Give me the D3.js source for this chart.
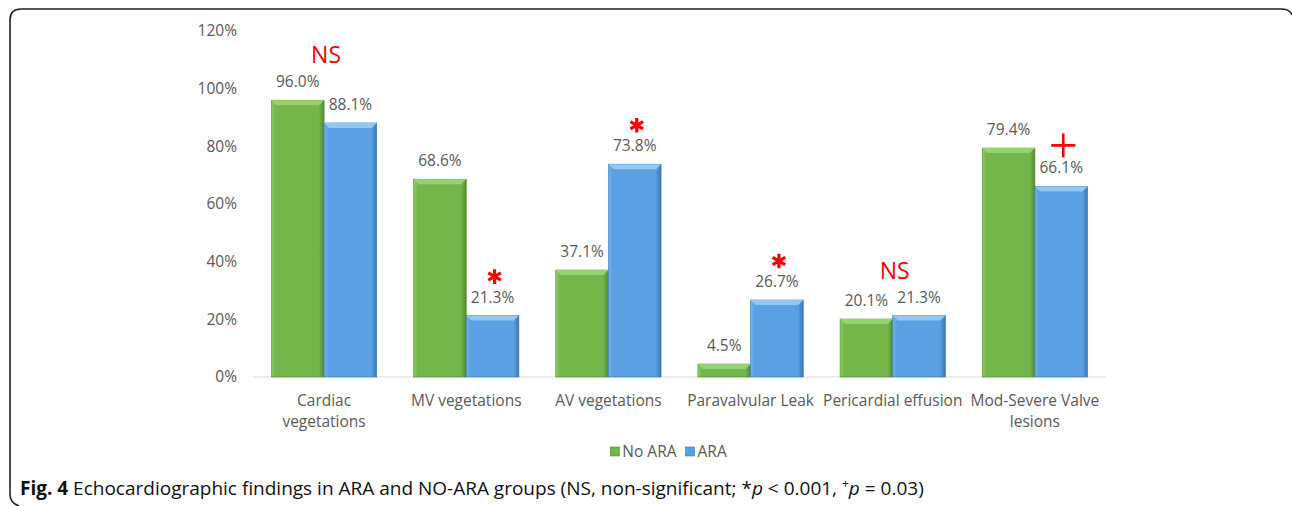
<!DOCTYPE html>
<html>
<head>
<meta charset="utf-8">
<script src="https://cdn.jsdelivr.net/npm/d3@7"></script>
<style>
  body { margin: 0; background: #fff; }
  svg { display: block; font-family: "Open Sans", sans-serif; }
</style>
</head>
<body>
<svg id="chart" width="1292" height="506"></svg>
<script>
const categories = ["Cardiac\nvegetations", "MV vegetations", "AV vegetations", "Paravalvular Leak", "Pericardial effusion", "Mod-Severe Valve\nlesions"];
const seriesNames = ["No ARA", "ARA"];
const noAraValues = [96.0, 68.6, 37.1, 4.5, 20.1, 79.4];
const araValues = [88.1, 21.3, 73.8, 26.7, 21.3, 66.1];
const sigMarks = ["NS", "*", "*", "*", "NS", "+"];
// which bar the marker sits above: the whole group or the ARA bar
const sigTarget = ["group", "ARA", "ARA", "ARA", "group", "ARA"];
const yTicks = [0, 20, 40, 60, 80, 100, 120];
const caption = "Echocardiographic findings in ARA and NO-ARA groups (NS, non-significant; ";

const colors = {
    "No ARA": { base: "#74b64a", light: "#8fcb67", dark: "#4f8b30", top: "#98d170" },
    "ARA": { base: "#5aa0e2", light: "#74b3ec", dark: "#3b76b3", top: "#92c8f2" }
};
const labelSize = "15.5px";

const svg = d3.select("#chart");
const width = 1292, height = 506;
const margin = { top: 31, left: 253, right: 186, bottom: 129 };

svg.append("rect").attr("width", width).attr("height", height).attr("fill", "#fff");

// frame
svg.append("path")
    .attr("d", "M19,506 Q10,503 10,494 L10,20 Q10,9 21,9 L1281,9 Q1290,9 1292,15")
    .attr("fill", "none").attr("stroke", "#222").attr("stroke-width", 1.6);

const defs = svg.append("defs");
seriesNames.forEach((s, i) => {
    const g = defs.append("linearGradient").attr("id", "grad" + i)
        .attr("x1", "0").attr("x2", "1").attr("y1", "0").attr("y2", "0");
    g.append("stop").attr("offset", "0%").attr("stop-color", colors[s].light);
    g.append("stop").attr("offset", "8%").attr("stop-color", colors[s].base);
    g.append("stop").attr("offset", "90%").attr("stop-color", colors[s].base);
    g.append("stop").attr("offset", "100%").attr("stop-color", colors[s].dark);
});

const x0 = d3.scaleBand()
    .domain(categories)
    .range([margin.left, width - margin.right])
    .padding(0);

const x1 = d3.scaleBand()
    .domain(seriesNames)
    .range([0, x0.bandwidth()])
    .paddingInner(0)
    .paddingOuter(0.35);

const y = d3.scaleLinear()
    .domain([0, 120])
    .range([height - margin.bottom, margin.top]);

// y axis labels
const yAxis = svg.append("g")
    .attr("transform", `translate(${margin.left},0)`)
    .call(d3.axisLeft(y).tickValues(yTicks).tickSize(0).tickPadding(16).tickFormat(d => d + "%"));
yAxis.select(".domain").remove();
yAxis.selectAll("text")
    .attr("fill", "#595959")
    .style("font-family", "'Open Sans', sans-serif")
    .style("font-size", labelSize);

// baseline
svg.append("line")
    .attr("x1", margin.left).attr("x2", width - margin.right)
    .attr("y1", y(0)).attr("y2", y(0))
    .attr("stroke", "#d9d9d9").attr("stroke-width", 1.2);

const rows = categories.map((c, i) => ({
    cat: c,
    values: [
        { series: "No ARA", value: noAraValues[i], idx: 0 },
        { series: "ARA", value: araValues[i], idx: 1 }
    ]
}));

const groups = svg.append("g").selectAll("g")
    .data(rows)
    .join("g")
    .attr("transform", d => `translate(${x0(d.cat)},0)`);

groups.selectAll("rect.bar")
    .data(d => d.values)
    .join("rect")
    .attr("class", "bar")
    .attr("x", d => x1(d.series))
    .attr("y", d => y(d.value))
    .attr("width", x1.bandwidth())
    .attr("height", d => y(0) - y(d.value))
    .attr("fill", d => `url(#grad${d.idx})`)
    .attr("stroke", d => colors[d.series].dark)
    .attr("stroke-width", 0.6);

// top bevel
groups.selectAll("path.bevel")
    .data(d => d.values)
    .join("path")
    .attr("class", "bevel")
    .attr("d", d => {
        const xa = x1(d.series), xb = xa + x1.bandwidth(), yt = y(d.value);
        const h = Math.min(5, y(0) - yt);
        return `M${xa},${yt} L${xb},${yt} L${xb - 5},${yt + h} L${xa + 5},${yt + h} Z`;
    })
    .attr("fill", d => colors[d.series].top);

// value labels
groups.selectAll("text.val")
    .data(d => d.values)
    .join("text")
    .attr("class", "val")
    .attr("x", d => x1(d.series) + x1.bandwidth() / 2)
    .attr("y", d => y(d.value) - 13)
    .attr("text-anchor", "middle")
    .attr("fill", "#595959")
    .style("font-size", labelSize)
    .text(d => d.value.toFixed(1) + "%");

// significance markers
rows.forEach((r, i) => {
    const mark = sigMarks[i];
    let cx, top;
    if (sigTarget[i] === "group") {
        cx = x0(r.cat) + x0.bandwidth() / 2;
        top = y(d3.max(r.values, v => v.value)) - 13;
    } else {
        cx = x0(r.cat) + x1("ARA") + x1.bandwidth() / 2 + 2;
        top = y(r.values[1].value) - 13;
    }
    if (mark === "NS") {
        svg.append("text")
            .attr("x", cx + 2).attr("y", top - 24)
            .attr("text-anchor", "middle")
            .attr("fill", "#ff0000")
            .style("font-size", "23px")
            .text("NS");
    } else if (mark === "*") {
        svg.append("path")
            .attr("transform", `translate(${cx},${top - 26})`)
            .attr("d", d3.symbol(d3.symbolAsterisk, 150)())
            .attr("fill", "none")
            .attr("stroke", "#ff0000")
            .attr("stroke-width", 3.2);
    } else if (mark === "+") {
        svg.append("path")
            .attr("transform", `translate(${cx},${top - 28})`)
            .attr("d", "M-12,0 L12,0 M0,-12 L0,12")
            .attr("fill", "none")
            .attr("stroke", "#ff0000")
            .attr("stroke-width", 2.6);
    }
});

// category labels
const catLabels = svg.append("g").selectAll("text")
    .data(categories)
    .join("text")
    .attr("x", d => x0(d) + x0.bandwidth() / 2)
    .attr("y", y(0) + 29)
    .attr("text-anchor", "middle")
    .attr("fill", "#595959")
    .style("font-size", labelSize);
catLabels.selectAll("tspan")
    .data(d => d.split("\n"))
    .join("tspan")
    .attr("x", function () { return d3.select(this.parentNode).attr("x"); })
    .attr("dy", (d, i) => i === 0 ? 0 : 21)
    .text(d => d);

// legend, centred under the plot
const legend = svg.append("g");
let lx = 0;
seriesNames.forEach((s, i) => {
    const item = legend.append("g").attr("transform", `translate(${lx},0)`);
    item.append("rect")
        .attr("x", 0).attr("y", -10).attr("width", 9).attr("height", 9)
        .attr("fill", colors[s].base).attr("stroke", colors[s].dark).attr("stroke-width", 0.6);
    const t = item.append("text")
        .attr("x", 12).attr("y", 0)
        .attr("fill", "#595959")
        .style("font-size", labelSize)
        .text(s);
    lx += 12 + t.node().getComputedTextLength() + (i === 0 ? 9 : 0);
});
legend.attr("transform", `translate(${(margin.left + width - margin.right) / 2 - lx / 2 - 11},457)`);

// caption
const cap = svg.append("text")
    .attr("x", 20).attr("y", 495)
    .attr("fill", "#111")
    .style("font-size", "19px");
cap.append("tspan").attr("font-weight", "bold").text("Fig. 4");
cap.append("tspan").text(" " + caption + "*");
cap.append("tspan").attr("font-style", "italic").text("p");
cap.append("tspan").text(" < 0.001, ");
cap.append("tspan").attr("font-size", "12px").attr("dy", -7).text("+");
cap.append("tspan").attr("font-style", "italic").attr("dy", 7).text("p");
cap.append("tspan").text(" = 0.03)");
</script>
</body>
</html>
